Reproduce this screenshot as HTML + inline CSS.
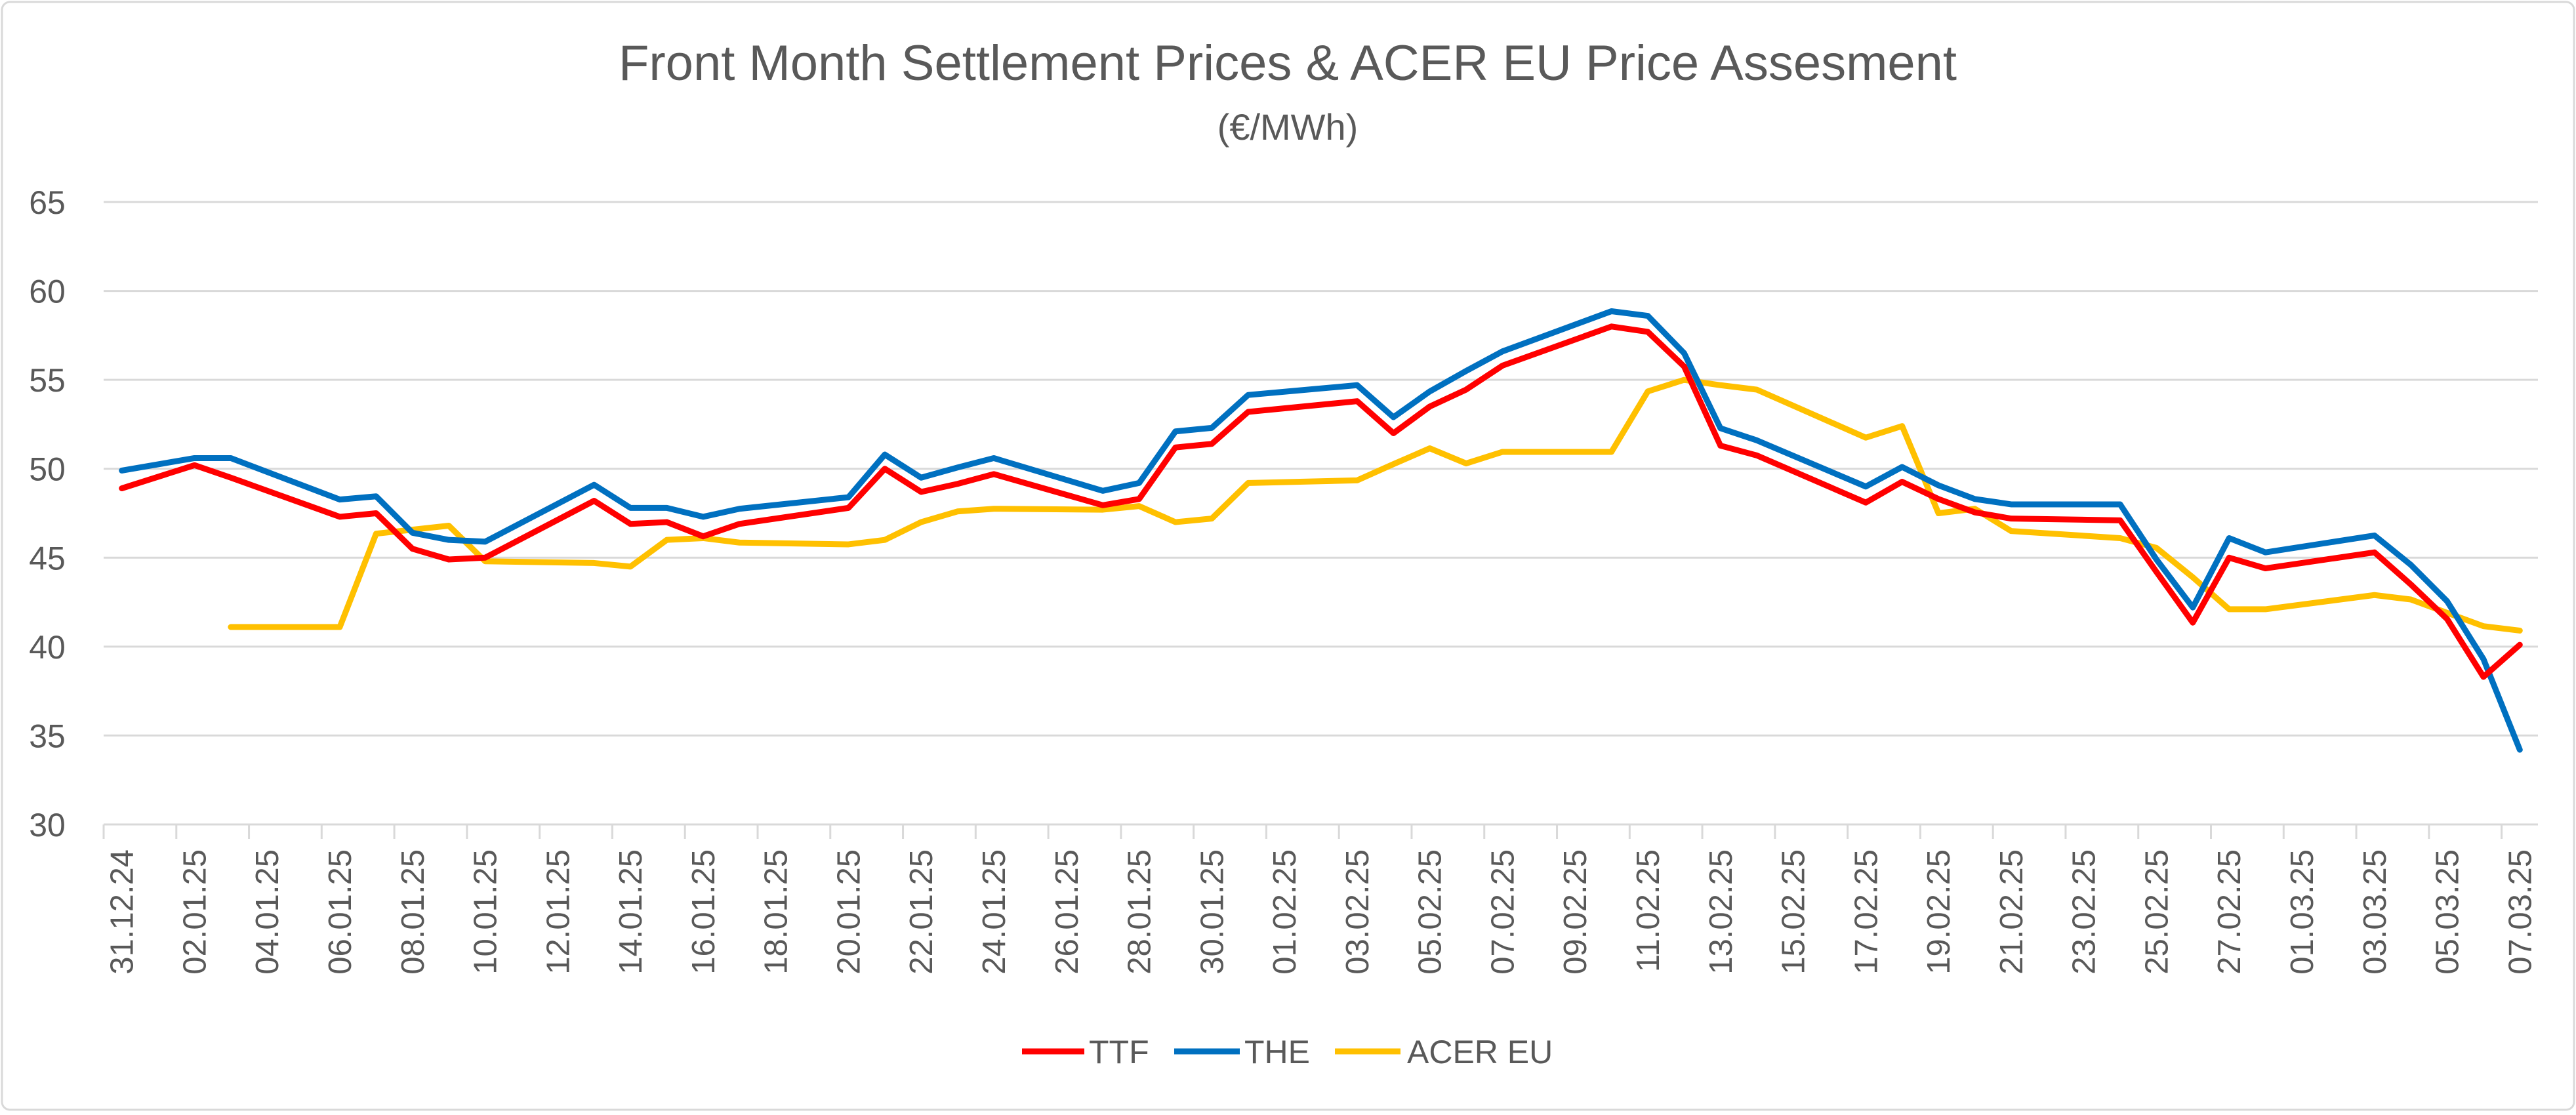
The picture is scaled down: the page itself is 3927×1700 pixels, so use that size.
<!DOCTYPE html>
<html><head><meta charset="utf-8"><style>
html,body{margin:0;padding:0;background:#fff;}
body{width:3927px;height:1695px;overflow:hidden;font-family:"Liberation Sans",sans-serif;}
</style></head><body>
<svg id="chart" width="3927" height="1695" xmlns="http://www.w3.org/2000/svg" font-family="Liberation Sans, sans-serif">
<rect x="3" y="3" width="3921" height="1689" rx="12" fill="#fff" stroke="#d9d9d9" stroke-width="3"/>
<text x="1963" y="122" text-anchor="middle" font-size="76" fill="#595959">Front Month Settlement Prices &amp; ACER EU Price Assesment</text>
<text x="1963" y="213" text-anchor="middle" font-size="56" fill="#595959">(€/MWh)</text>
<g id="grid"></g><g id="yaxis"></g><g id="xaxis"></g><g id="series"></g>
<g>
<line x1="1558" y1="1603" x2="1653" y2="1603" stroke="#ff0000" stroke-width="9"/>
<text x="1660" y="1621" font-size="50" fill="#595959">TTF</text>
<line x1="1790" y1="1603" x2="1890" y2="1603" stroke="#0070c0" stroke-width="9"/>
<text x="1897" y="1621" font-size="50" fill="#595959">THE</text>
<line x1="2035" y1="1603" x2="2135" y2="1603" stroke="#ffc000" stroke-width="9"/>
<text x="2145" y="1621" font-size="50" fill="#595959">ACER EU</text>
</g>
</svg>
<script>
const yTicks=[30,35,40,45,50,55,60,65];
const xTickLabels=["31.12.24","02.01.25","04.01.25","06.01.25","08.01.25","10.01.25","12.01.25","14.01.25","16.01.25","18.01.25","20.01.25","22.01.25","24.01.25","26.01.25","28.01.25","30.01.25","01.02.25","03.02.25","05.02.25","07.02.25","09.02.25","11.02.25","13.02.25","15.02.25","17.02.25","19.02.25","21.02.25","23.02.25","25.02.25","27.02.25","01.03.25","03.03.25","05.03.25","07.03.25"];
const tradingDays=[0,2,3,6,7,8,9,10,13,14,15,16,17,20,21,22,23,24,27,28,29,30,31,34,35,36,37,38,41,42,43,44,45,48,49,50,51,52,55,56,57,58,59,62,63,64,65,66];
const ttfValues=[48.9,50.2,49.5,47.3,47.5,45.5,44.9,45.0,48.2,46.9,47.0,46.2,46.9,47.8,50.0,48.7,49.15,49.7,47.95,48.3,51.2,51.4,53.2,53.8,52.0,53.5,54.45,55.8,58.0,57.7,55.75,51.3,50.75,48.1,49.27,48.3,47.55,47.2,47.1,44.2,41.35,45.0,44.4,45.3,43.5,41.55,38.3,40.1];
const theValues=[49.9,50.6,50.6,48.27,48.45,46.4,46.0,45.9,49.1,47.8,47.8,47.3,47.75,48.4,50.8,49.5,50.07,50.6,48.76,49.2,52.1,52.3,54.15,54.7,52.9,54.35,55.5,56.6,58.86,58.6,56.5,52.28,51.6,49.0,50.1,49.07,48.3,48.0,48.0,44.9,42.2,46.1,45.3,46.25,44.6,42.55,39.3,34.2];
const acerDays=[3,6,7,9,10,13,14,15,16,17,20,21,22,23,24,27,28,29,30,31,34,35,36,37,38,41,42,43,44,45,48,49,50,51,52,55,56,57,58,59,62,63,64,65,66];
const acerValues=[41.1,41.1,46.35,46.8,44.8,44.7,44.5,46.0,46.1,45.85,45.75,46.0,47.0,47.6,47.75,47.7,47.9,47.0,47.2,49.2,49.35,50.26,51.15,50.3,50.95,50.95,54.35,55.0,54.7,54.45,51.75,52.4,47.5,47.75,46.5,46.1,45.55,43.9,42.1,42.1,42.9,42.65,41.9,41.15,40.9];
const NS="http://www.w3.org/2000/svg";
const L=158,R=3869,T=308,B=1257,ND=67;
const yMin=30,yMax=65;
const xDay=d=>L+(d+0.5)*(R-L)/ND;
const yVal=v=>B-(v-yMin)/(yMax-yMin)*(B-T);
function mk(tag,attrs,parent){const e=document.createElementNS(NS,tag);for(const k in attrs)e.setAttribute(k,attrs[k]);parent.appendChild(e);return e;}
const grid=document.getElementById('grid'),ya=document.getElementById('yaxis'),xa=document.getElementById('xaxis'),ser=document.getElementById('series');
yTicks.forEach(v=>{
 const g=mk('line',{x1:L,x2:R,y1:yVal(v),y2:yVal(v),stroke:'#d9d9d9','stroke-width':3},grid);
 
 
 const t=mk('text',{x:72,y:yVal(v)+18,'text-anchor':'middle','font-size':50,fill:'#595959'},ya);
 t.textContent=v;
 
 
});
for(let d=0;d<=ND;d+=2){
 const x=L+d*(R-L)/ND;
 const tk=mk('line',{x1:x,x2:x,y1:B,y2:B+22,stroke:'#d9d9d9','stroke-width':3},xa);
 
 
}
xTickLabels.forEach((lab,i)=>{
 const x=xDay(i*2),y=B+38;
 const t=mk('text',{x:x,y:y,transform:`rotate(-90 ${x} ${y})`,'text-anchor':'end','font-size':49,fill:'#595959',dy:'17'},xa);
 t.textContent=lab;
 
 
});
function line(days,vals,color,name){
 const p=mk('polyline',{points:days.map((d,i)=>xDay(d)+','+yVal(vals[i])).join(' '),fill:'none',stroke:color,'stroke-width':9,'stroke-linejoin':'round','stroke-linecap':'round'},ser);
 
 
}
line(acerDays,acerValues,'#ffc000','acer-eu-line');
line(tradingDays,theValues,'#0070c0','the-line');
line(tradingDays,ttfValues,'#ff0000','ttf-line');
</script>
</body></html>
